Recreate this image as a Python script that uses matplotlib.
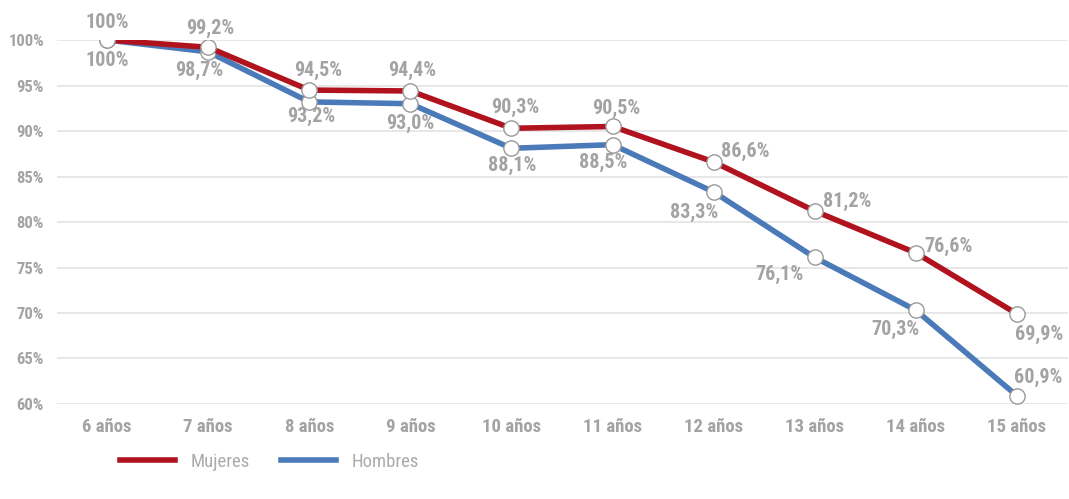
import matplotlib
matplotlib.use('Agg')
import matplotlib.pyplot as plt
from matplotlib import font_manager

# data
edades = ['6 años', '7 años', '8 años', '9 años', '10 años',
          '11 años', '12 años', '13 años', '14 años', '15 años']
mujeres = [100, 99.2, 94.5, 94.4, 90.3, 90.5, 86.6, 81.2, 76.6, 69.9]
hombres = [100, 98.7, 93.2, 93.0, 88.1, 88.5, 83.3, 76.1, 70.3, 60.9]
yticks = [60, 65, 70, 75, 80, 85, 90, 95, 100]

# pick a narrow font if one is around
names = {f.name for f in font_manager.fontManager.ttflist}
fam = 'DejaVu Sans'
for cand in ['Roboto Condensed', 'Liberation Sans Narrow', 'Roboto', 'Liberation Sans']:
    if cand in names:
        fam = cand
        break
plt.rcParams['font.family'] = [fam, 'DejaVu Sans']

red = '#B0131E'
blue = '#4A7AB8'
gray = '#A3A3A3'

fig = plt.figure(figsize=(10.69, 4.99), dpi=100)
ax = fig.add_axes([0.0529, 0.1904, 0.9457, 0.7294])

x = range(len(edades))
ax.plot(x, hombres, color=blue, lw=4, zorder=3, solid_capstyle='butt',
        marker='o', ms=11, mfc='white', mec='#999999', mew=1.0)
ax.plot(x, mujeres, color=red, lw=4, zorder=4, solid_capstyle='butt',
        marker='o', ms=11, mfc='white', mec='#999999', mew=1.0)

def fmt(v):
    return '100%' if v == 100 else ('%.1f%%' % v).replace('.', ',')

# label offsets in pixels (dx, dy), dy positive = up
off_m = [(0, 18), (2, 19), (9, 20), (2, 21), (4, 21), (4, 18), (32, 11), (32, 10), (33, 7), (22, -21)]
off_h = [(0, -20), (-9, -19), (2, -15), (0, -20), (1, -17), (-9, -18), (-20, -20), (-35, -17), (-20, -19), (21, 18)]

for vals, offs in ((mujeres, off_m), (hombres, off_h)):
    for i, v in enumerate(vals):
        ax.annotate(fmt(v), (i, v), xytext=offs[i], textcoords='offset pixels',
                    ha='center', va='center', fontsize=14.5, fontweight='bold',
                    color=gray, annotation_clip=False, zorder=5)

ax.set_xlim(-0.5, len(edades) - 0.5)
ax.set_ylim(60, 100)
ax.set_yticks(yticks)
ax.set_yticklabels(['%d%%' % t for t in yticks])
ax.set_xticks(list(x))
ax.set_xticklabels(edades)
ax.grid(axis='y', color='#E3E3E3', lw=1.2, zorder=0)
ax.set_axisbelow(True)
for s in ax.spines.values():
    s.set_visible(False)
ax.tick_params(length=0, colors=gray)
ax.tick_params(axis='y', pad=9, labelsize=12)
ax.tick_params(axis='x', pad=10, labelsize=13.5)
for lab in ax.get_xticklabels() + ax.get_yticklabels():
    lab.set_fontweight('bold')

# legend under the plot
leg = fig.legend(handles=[plt.Line2D([], [], color=red, lw=4),
                          plt.Line2D([], [], color=blue, lw=4)],
                 labels=['Mujeres', 'Hombres'], ncol=2, frameon=False,
                 loc='center left', bbox_to_anchor=(120 / 1069, 37 / 499),
                 borderaxespad=0, borderpad=0,
                 handlelength=2.93, handletextpad=0.85, columnspacing=1.65,
                 fontsize=13.5)
for t in leg.get_texts():
    t.set_color('#ABABAB')

fig.savefig('out.png', dpi=100)
